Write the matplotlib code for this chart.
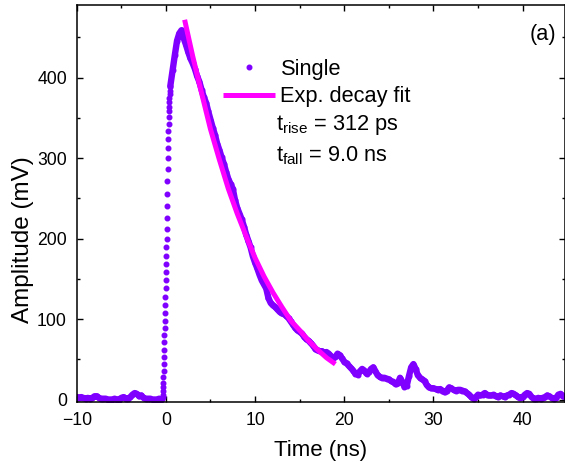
import numpy as np
import matplotlib
matplotlib.use('Agg')
import matplotlib.pyplot as plt
from matplotlib.ticker import MultipleLocator

plt.rcParams['font.family'] = ['Liberation Sans', 'DejaVu Sans']
plt.rcParams['mathtext.fontset'] = 'custom'
plt.rcParams['mathtext.rm'] = 'Liberation Sans'
plt.rcParams['mathtext.it'] = 'Liberation Sans:italic'
plt.rcParams['mathtext.bf'] = 'Liberation Sans:bold'

# ---------------- data ----------------
# pre-trigger baseline (start time, sample step in ns)
base_t0, base_dt = -10.0, 0.25
base_v = [3, 2, 3, 2, 1, 2, 1, 2, 4, 4, 2, 1, 1, 1, 0, 0, 0, 1, 0, 0,
          2, 3, 1, 1, 3, 6, 8, 7, 4, 5, 2, 1, 1, 1, 0, 0, 0, 1, 0]

# leading edge (finely sampled, discrete dots visible)
rise_t0, rise_dt = -0.40, 0.02
rise_v = [1, 3, 6, 10, 15, 21, 28, 36, 44, 53, 62, 71, 80, 89, 98, 108, 118,
          128, 138, 148, 158, 168, 178, 189, 200, 212, 226, 241, 256, 271,
          286, 300, 313, 324, 334, 343, 351, 358, 364, 370, 375, 380, 384, 388]

# peak, decay and tail
decay_t0, decay_dt = 0.5, 0.25
decay_v = [390, 409, 428, 446, 455, 459, 449, 441, 432, 424,
           418, 411, 402, 395, 385, 376, 369, 358, 348, 338,
           329, 318, 310, 301, 293, 283, 274, 268, 262, 248,
           238, 231, 224, 215, 205, 197, 189, 178, 170, 163,
           155, 148, 143, 138, 126, 120, 117, 115, 112, 109,
           107, 106, 104, 101, 97, 93, 89, 86, 84, 82,
           78, 75, 73, 70, 67, 63, 61, 60, 60, 58,
           59, 57, 54, 51, 53, 57, 55, 51, 47, 45,
           42, 39, 36, 32, 31, 35, 38, 36, 32, 34,
           38, 40, 35, 30, 28, 27, 27, 26, 25, 23,
           22, 19, 20, 27, 22, 16, 17, 29, 40, 44,
           38, 30, 27, 25, 23, 18, 15, 14, 14, 13,
           12, 13, 11, 9, 11, 15, 14, 12, 11, 12,
           12, 11, 10, 8, 6, 3, 1, 3, 6, 5,
           6, 8, 6, 5, 5, 6, 4, 3, 5, 4,
           3, 5, 6, 8, 7, 5, 3, 2, 3, 6,
           8, 7, 3, 1, 1, 2, 1, 2, 3, 5,
           4, 2, 1, 2, 6, 7, 4, 3]

# exponential decay fit
fit_t = [2.1, 3, 4, 5, 6, 7, 8, 9, 10, 11, 12, 13, 14, 15, 16, 17, 18, 19]
fit_v = [472, 427, 381, 336, 298, 262, 231, 203, 176, 153, 133, 115, 98,
         86, 73, 62, 52, 44]

labels = ['Single', 'Exp. decay fit']
note_rise = r'$\mathrm{t}_{\mathrm{rise}}$ = 312 ps'
note_fall = r'$\mathrm{t}_{\mathrm{fall}}$ = 9.0 ns'
panel = '(a)'
xlabel = 'Time (ns)'
ylabel = 'Amplitude (mV)'

# ---------------- figure ----------------
W, H = 565, 468
fig = plt.figure(figsize=(W / 100, H / 100), dpi=100)
L, R, T, B = 76.7, 564.5, 5.3, 402.0
ax = fig.add_axes([L / W, 1 - B / H, (R - L) / W, (B - T) / H])

purple = '#8000ff'
magenta = '#ff00ff'

base_t = base_t0 + base_dt * np.arange(len(base_v))
rise_t = rise_t0 + rise_dt * np.arange(len(rise_v))
decay_t = decay_t0 + decay_dt * np.arange(len(decay_v))

line_kw = dict(color=purple, lw=4.6, marker='o', ms=3.3, mec=purple,
               mfc=purple, solid_joinstyle='round', solid_capstyle='round')
ax.plot(base_t, base_v, **line_kw)
ax.plot(decay_t, decay_v, **line_kw)
h_single, = ax.plot(rise_t, rise_v, ls='none', marker='o', ms=3.3,
                    color=purple, mec=purple, label=labels[0])
h_fit, = ax.plot(fit_t, fit_v, color=magenta, lw=3.6,
                 solid_capstyle='butt', label=labels[1], zorder=5)

ax.set_xlim(-10, 44.69)
ax.set_ylim(-3.1, 490)
ax.xaxis.set_major_locator(MultipleLocator(10))
ax.xaxis.set_minor_locator(MultipleLocator(5))
ax.yaxis.set_major_locator(MultipleLocator(100))
ax.yaxis.set_minor_locator(MultipleLocator(50))
ax.tick_params(which='both', direction='in', top=True, right=True,
               width=1.0, labelsize=12.7, pad=7)
ax.tick_params(which='major', length=4.0)
ax.tick_params(which='minor', length=2.3)
for sp in ax.spines.values():
    sp.set_linewidth(1.1)

ax.set_xlabel(xlabel, fontsize=16)
ax.set_ylabel(ylabel, fontsize=17.5)
ax.xaxis.set_label_coords(0.5, (B - 440) / (B - T))
ax.yaxis.set_label_coords((34 - L) / (R - L), (B - 240) / (B - T))

leg = ax.legend(handles=[h_single, h_fit], loc='upper left',
                bbox_to_anchor=(222.7 / W, 1 - 58.5 / H),
                bbox_transform=fig.transFigure, frameon=False,
                fontsize=15.7, handlelength=2.4, handletextpad=0.25,
                borderpad=0, borderaxespad=0, labelspacing=0.32,
                markerscale=1.0)

fig.text(276 / W, 1 - 130 / H, note_rise, fontsize=15.7, va='baseline',
         ha='left')
fig.text(276 / W, 1 - 161.7 / H, note_fall, fontsize=15.7, va='baseline',
         ha='left')
fig.text(556.5 / W, 1 - 40 / H, panel, fontsize=15.7, va='baseline',
         ha='right')

fig.savefig('out.png', dpi=100)
